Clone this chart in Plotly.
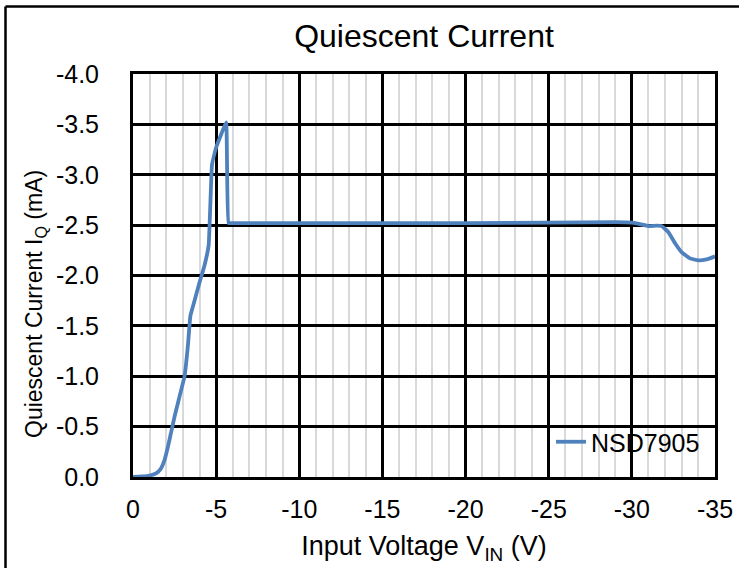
import plotly.graph_objects as go

# ---- data ----
vin = [0, -0.5, -1.0, -1.3, -1.5, -1.7, -1.9, -2.1, -2.3, -2.5, -2.8, -3.1, -3.3, -3.45,
       -3.7, -4.0, -4.3, -4.55, -4.65, -4.75, -5.0, -5.3, -5.6, -5.75, -6.0, -10.0, -15.0,
       -20.0, -25.0, -29.0, -30.0, -30.5, -31.0, -31.5, -31.8, -32.2, -32.6, -33.0, -33.5,
       -34.0, -34.5, -35.0]
iq = [0, -0.005, -0.015, -0.03, -0.05, -0.09, -0.17, -0.3, -0.45, -0.6, -0.8, -1.0, -1.3, -1.6,
      -1.75, -1.93, -2.1, -2.3, -2.7, -3.1, -3.27, -3.4, -3.52, -2.52, -2.52, -2.52, -2.52,
      -2.52, -2.525, -2.53, -2.525, -2.51, -2.49, -2.495, -2.49, -2.43, -2.32, -2.23, -2.17,
      -2.15, -2.16, -2.19]
series_name = "NSD7905"

x_tickvals = [0, -5, -10, -15, -20, -25, -30, -35]
x_ticktext = ["0", "-5", "-10", "-15", "-20", "-25", "-30", "-35"]
y_tickvals = [0, -0.5, -1.0, -1.5, -2.0, -2.5, -3.0, -3.5, -4.0]
y_ticktext = ["0.0", "-0.5", "-1.0", "-1.5", "-2.0", "-2.5", "-3.0", "-3.5", "-4.0"]

FONT = "Liberation Sans, Arial, sans-serif"

fig = go.Figure()
fig.add_trace(go.Scatter(x=vin, y=iq, mode="lines", name=series_name,
                         line=dict(color="#4F81BD", width=3.8, shape="spline", smoothing=0.3)))

W, H = 739, 568
L, R, T, B = 133, 24, 74, 91
pw, ph = W - L - R, H - T - B

def px2paper_x(px):
    return (px - L) / pw

def px2paper_y(py):
    return (H - B - py) / ph

fig.update_layout(
    width=W, height=H,
    margin=dict(l=L, r=R, t=T, b=B),
    paper_bgcolor="white", plot_bgcolor="white",
    font=dict(family=FONT, color="black", size=25),
    title=dict(text="Quiescent Current", font=dict(size=32, family=FONT, color="black"),
               x=0.5, xref="paper", xanchor="center",
               y=1 - 36 / H, yref="container", yanchor="middle"),
    showlegend=True,
    legend=dict(x=px2paper_x(551), xanchor="left", y=px2paper_y(442), yanchor="middle",
                bgcolor="rgba(0,0,0,0)", borderwidth=0,
                font=dict(size=25, family=FONT, color="black")),
    annotations=[
        dict(text="Quiescent Current I<sub>Q</sub> (mA)", textangle=-90,
             xref="paper", yref="paper", x=px2paper_x(35), y=px2paper_y(304),
             xanchor="center", yanchor="middle", showarrow=False,
             font=dict(size=23, family=FONT, color="black")),
    ],
    shapes=[
        # legend background
        dict(type="rect", xref="paper", yref="paper", layer="between",
             x0=px2paper_x(497), x1=px2paper_x(712), y0=px2paper_y(468), y1=px2paper_y(418),
             fillcolor="white", line=dict(width=0)),
        # outer frame (top and left)
        dict(type="line", xref="paper", yref="paper",
             x0=px2paper_x(5.5), x1=px2paper_x(745), y0=px2paper_y(6.5), y1=px2paper_y(6.5),
             line=dict(color="black", width=2.5)),
        dict(type="line", xref="paper", yref="paper",
             x0=px2paper_x(5.5), x1=px2paper_x(5.5), y0=px2paper_y(6.5), y1=px2paper_y(575),
             line=dict(color="black", width=2.5)),
    ],
)

fig.update_xaxes(
    range=[0, -35], tickvals=x_tickvals, ticktext=x_ticktext, automargin=False,
    showgrid=True, gridcolor="black", gridwidth=2.5,
    showline=True, linecolor="black", linewidth=3, mirror=True,
    ticks="", ticklabelstandoff=8, zeroline=False,
    tickfont=dict(size=25, family=FONT, color="black"),
    minor=dict(tickmode="linear", tick0=0, dtick=1, showgrid=True,
               gridcolor="#d9d9d9", gridwidth=2, ticks=""),
    title=dict(text="Input Voltage V<sub>IN</sub> (V)", standoff=15,
               font=dict(size=27, family=FONT, color="black")),
)
fig.update_yaxes(
    range=[0, -4], tickvals=y_tickvals, ticktext=y_ticktext, automargin=False,
    showgrid=True, gridcolor="black", gridwidth=2.5,
    showline=True, linecolor="black", linewidth=3, mirror=True,
    ticks="", ticklabelstandoff=26, zeroline=False,
    tickfont=dict(size=25, family=FONT, color="black"),
)

fig.write_html("out.html")
